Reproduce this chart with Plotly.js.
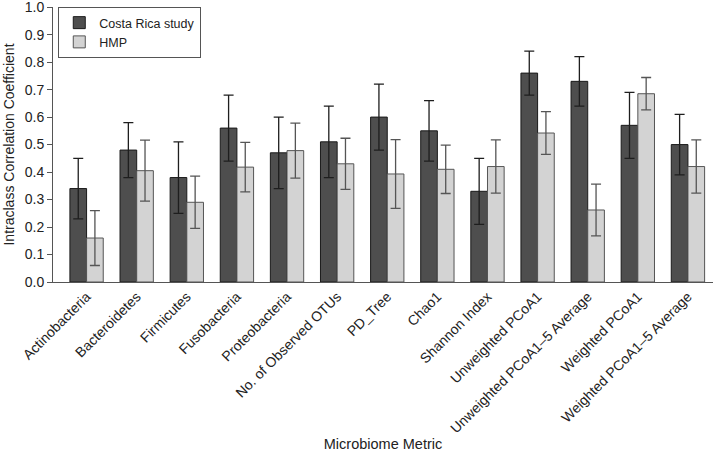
<!DOCTYPE html>
<html>
<head>
<meta charset="utf-8">
<script src="https://cdn.plot.ly/plotly-3.0.1.min.js"></script>
<style>html,body{margin:0;padding:0;background:#fff;}#chart{width:714px;height:452px;}</style>
</head>
<body>
<div id="chart"></div>
<script>
const categories = ["Actinobacteria","Bacteroidetes","Firmicutes","Fusobacteria","Proteobacteria","No. of Observed OTUs","PD_Tree","Chao1","Shannon Index","Unweighted PCoA1","Unweighted PCoA1\u20135 Average","Weighted PCoA1","Weighted PCoA1\u20135 Average"];
const costaRica = [0.34,0.48,0.38,0.56,0.47,0.51,0.60,0.55,0.33,0.76,0.73,0.57,0.50];
const costaRicaErr = [0.11,0.10,0.13,0.12,0.13,0.13,0.12,0.11,0.12,0.08,0.09,0.12,0.11];
const hmp = [0.16,0.405,0.29,0.418,0.478,0.43,0.393,0.41,0.42,0.542,0.262,0.685,0.42];
const hmpErr = [0.10,0.111,0.095,0.09,0.10,0.093,0.125,0.088,0.097,0.078,0.094,0.059,0.097];
const yTicks = [0,0.1,0.2,0.3,0.4,0.5,0.6,0.7,0.8,0.9,1.0];
const boundaryTicks = categories.slice(1).map((c,i)=>i+0.5);

const font = "Liberation Sans, Arial, sans-serif";
const traces = [
  {type:"bar", name:"Costa Rica study", x:categories, y:costaRica,
   marker:{color:"#4e4e4e", line:{color:"#1a1a1a", width:1}},
   error_y:{type:"data", array:costaRicaErr, visible:true, color:"#1e1e1e", thickness:1.3, width:5}},
  {type:"bar", name:"HMP", x:categories, y:hmp,
   marker:{color:"#d3d3d3", line:{color:"#555555", width:1}},
   error_y:{type:"data", array:hmpErr, visible:true, color:"#555555", thickness:1.3, width:5}}
];
const layout = {
  width:714, height:452,
  margin:{l:53, r:1, t:7, b:170},
  paper_bgcolor:"#fff", plot_bgcolor:"#fff",
  font:{family:font, color:"#222", size:13},
  barmode:"group", bargap:0.335, bargroupgap:0,
  showlegend:true,
  legend:{x:0.008, y:1.0, xanchor:"left", yanchor:"top", bgcolor:"#fff",
          bordercolor:"#555", borderwidth:1, font:{size:12.5, family:font, color:"#222"},
          tracegroupgap:0, itemwidth:30},
  xaxis:{type:"category", range:[-0.67,12.5], tickangle:-45, ticks:"",
         showline:true, linecolor:"#555", linewidth:1, showgrid:false, zeroline:false,
         tickfont:{size:14, family:font, color:"#222"},
         title:{text:"Microbiome Metric", font:{size:14.5, family:font, color:"#222"}, standoff:10}},
  xaxis2:{overlaying:"x", anchor:"y", type:"linear", range:[-0.67,12.5],
          tickvals:boundaryTicks, ticks:"outside", ticklen:5, tickcolor:"#555",
          showticklabels:false, showgrid:false, zeroline:false, showline:false},
  yaxis:{range:[0,1.0005], tickvals:yTicks, ticktext:yTicks.map(v=>v.toFixed(1)), ticks:"outside", ticklen:5,
         ticklabeloverflow:"allow",
         tickcolor:"#555", showline:true, linecolor:"#555", linewidth:1, showgrid:false, zeroline:false,
         tickfont:{size:14, family:font, color:"#222"},
         title:{text:"Intraclass Correlation Coefficient", font:{size:14, family:font, color:"#222"}, standoff:6}}
};
Plotly.newPlot("chart", traces, layout, {displayModeBar:false, staticPlot:true});
</script>
</body>
</html>
